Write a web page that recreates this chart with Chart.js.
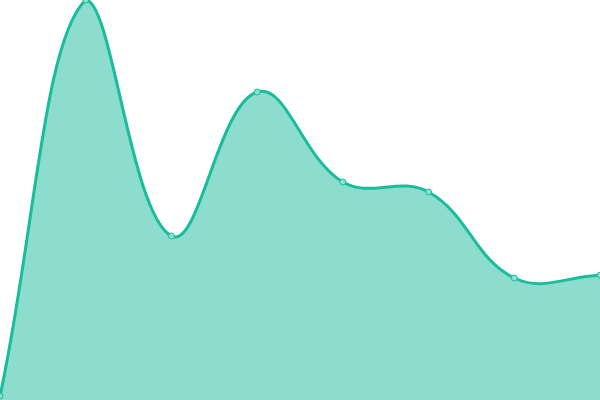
<!DOCTYPE html>
<html>
<head>
<meta charset="utf-8">
<style>
  html, body { margin: 0; padding: 0; background: #fff; }
  #chart { display: block; }
</style>
<script src="https://cdn.jsdelivr.net/npm/chart.js@4"></script>
</head>
<body>
<canvas id="chart" width="600" height="400"></canvas>
<script>
const labels = ["1", "2", "3", "4", "5", "6", "7", "8"];
const values = [1, 100, 41, 77, 54.5, 52, 30.5, 31.2];

new Chart(document.getElementById("chart"), {
    type: "line",
    data: {
        labels: labels,
        datasets: [{
            data: values,
            fill: true,
            borderColor: "#1abc9c",
            backgroundColor: "rgba(26, 188, 156, 0.5)",
            borderWidth: 3,
            tension: 0.4,
            pointRadius: 3,
            pointBorderWidth: 1,
            pointBackgroundColor: "#8ce0cf",
            pointBorderColor: "#1abc9c"
        }]
    },
    options: {
        responsive: false,
        animation: false,
        layout: { padding: 0, autoPadding: false },
        plugins: {
            legend: { display: false },
            tooltip: { enabled: false }
        },
        scales: {
            x: { display: false },
            y: { display: false, min: 0, max: 100 }
        }
    }
});
</script>
</body>
</html>
